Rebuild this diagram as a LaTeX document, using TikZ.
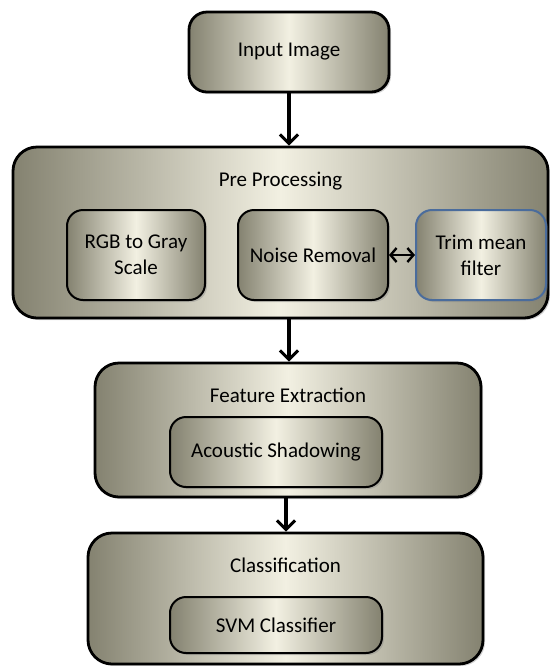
\documentclass[tikz,border=0pt]{standalone}
\usepackage{fontspec}
\setmainfont{Carlito}
\usepackage{tikz}
\usetikzlibrary{positioning,arrows.meta,shadows}

\definecolor{boxedge}{RGB}{132,130,112}
\definecolor{boxmid}{RGB}{242,240,226}
\definecolor{trimblue}{RGB}{74,108,156}

\begin{document}
\begin{tikzpicture}[x=0.5pt, y=-0.5pt,
        outerbox/.style={rectangle, rounded corners=12pt, draw=black, line width=1.4pt,
            left color=boxedge, right color=boxedge, middle color=boxmid,
            drop shadow={opacity=0.35, shadow xshift=1pt, shadow yshift=-1pt},
            inner sep=0pt},
        innerbox/.style={rectangle, rounded corners=8pt, draw=black, line width=1pt,
            left color=boxedge, right color=boxedge, middle color=boxmid,
            drop shadow={opacity=0.35, shadow xshift=1pt, shadow yshift=-1pt},
            align=center, font=\fontsize{10.5}{13}\selectfont, inner sep=0pt},
        titlenode/.style={font=\fontsize{10.5}{13}\selectfont},
        flow/.style={-{Straight Barb[length=4.5pt, width=9pt, line width=1.5pt]}, line width=1.6pt}]

        \useasboundingbox (0,0) rectangle (550,666);

        \node[innerbox, minimum width=100pt, minimum height=40pt, rounded corners=9pt, line width=1.4pt] (input) at (289,52) {Input Image};

        \node[outerbox, minimum width=267.5pt, minimum height=85.5pt] (pre) at (280.5,232.5) {};
        \node[titlenode] (pretitle) at (280.5,181) {Pre Processing};
        \node[innerbox, minimum width=69pt, minimum height=45pt] (rgb) at (136,255) {RGB to Gray\\Scale};
        \node[innerbox, minimum width=75pt, minimum height=45pt] (noise) at (313,255) {Noise Removal};
        \node[innerbox, draw=trimblue, minimum width=65pt, minimum height=45pt] (trim) at (481,255) {Trim mean\\filter};

        \node[outerbox, minimum width=193pt, minimum height=67pt] (feat) at (288,430) {};
        \node[titlenode] (feattitle) at (288,395) {Feature Extraction};
        \node[innerbox, minimum width=106pt, minimum height=35pt] (acou) at (276,452) {Acoustic Shadowing};

        \node[outerbox, minimum width=197.5pt, minimum height=65.5pt] (cls) at (285.5,598.5) {};
        \node[titlenode] (clstitle) at (285.5,565) {Classification};
        \node[innerbox, minimum width=106pt, minimum height=28pt] (svm) at (276,625) {SVM Classifier};

        % connectors
        \draw[flow] (input.south) -- (input.south |- pre.north);
        \draw[flow] (pre.south -| input.south) -- (input.south |- feat.north);
        \draw[flow] ([xshift=-1pt]feat.south) -- ([xshift=-1pt]feat.south |- cls.north);
        \draw[{Straight Barb[length=3pt, width=7pt, line width=1.2pt]}-{Straight Barb[length=3pt, width=7pt, line width=1.2pt]}, line width=1.3pt] (noise.east) -- (trim.west);

\end{tikzpicture}
\end{document}
